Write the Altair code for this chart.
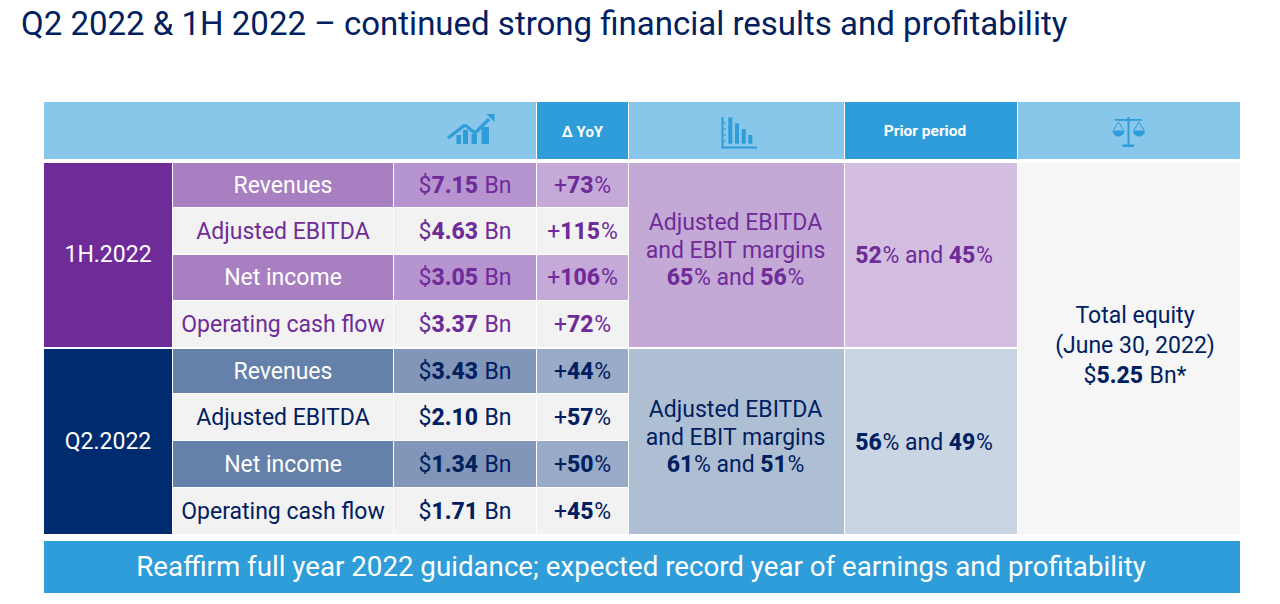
import altair as alt
import pandas as pd

FONT = "Roboto"
PURPLE, NAVY, SKY, DEEP, WHITE = "#6F2C99", "#002060", "#88C7EA", "#2E9DD9", "#FFFFFF"

# ---- content -------------------------------------------------------------
title = "Q2 2022 & 1H 2022 – continued strong financial results and profitability"
banner = "Reaffirm full year 2022 guidance; expected record year of earnings and profitability"
periods = ["1H.2022", "Q2.2022"]
metrics = ["Revenues", "Adjusted EBITDA", "Net income", "Operating cash flow"]
values_1h = ["7.15", "4.63", "3.05", "3.37"]
values_q2 = ["3.43", "2.10", "1.34", "1.71"]
yoy_1h = ["73", "115", "106", "72"]
yoy_q2 = ["44", "57", "50", "45"]
margins_1h = ["65", "56"]
margins_q2 = ["61", "51"]
prior_1h = ["52", "45"]
prior_q2 = ["56", "49"]
equity = "5.25"
margin_lines = ["Adjusted EBITDA", "and EBIT margins"]
equity_lines = ["Total equity", "(June 30, 2022)"]
headers = ["Δ YoY", "Prior period"]

# ---- layout of the slide grid ---------------------------------------------
cols = [(44, 172), (173, 393), (394, 536), (537, 628), (629, 844), (845, 1017), (1018, 1240)]
rows_1h = [(163, 207), (208, 254), (255, 300), (301, 347)]
rows_q2 = [(349, 393), (394, 440), (441, 487), (488, 534)]
cx = [(a + b) / 2 for a, b in cols]

themes = [
    dict(rows=rows_1h, ink=PURPLE, period=PURPLE, label="#A880C2", val="#B594CF", yoy="#C5A9D9",
         margin="#C4A9D7", prior="#D3BEE2", values=values_1h, yoys=yoy_1h, margins=margins_1h, priors=prior_1h),
    dict(rows=rows_q2, ink=NAVY, period="#002B6F", label="#6580A9", val="#8196B8", yoy="#99ABC8",
         margin="#AFBFD3", prior="#CAD5E4", values=values_q2, yoys=yoy_q2, margins=margins_q2, priors=prior_q2),
]

REG = {"$": .562, "%": .732, "+": .568, ".": .263, " ": .248, "B": .623, "n": .551, "a": .544, "d": .564, "*": .431}
BOLD = {".": .29, "%": .75}


def width(s, bold, size):
    t = 0
    for c in s:
        t += (BOLD.get(c, .59) if bold else REG.get(c, .562)) * size
    return t


cells, plain, left_reg, left_bold = [], [], [], []


def cell(c, r, fill):
    cells.append(dict(x=c[0], x2=c[1], y=r[0], y2=r[1], fill=fill))


def text(s, x, y, size, ink):
    plain.append(dict(t=s, x=x, y=y, size=size, ink=ink))


def runs(parts, center, y, size, ink):
    total = sum(width(s, b, size) for s, b in parts)
    x = center - total / 2
    for s, b in parts:
        lead = len(s) - len(s.lstrip(" "))
        (left_bold if b else left_reg).append(
            dict(t=s.strip(" "), x=x + width(" " * lead, b, size), y=y, size=size, ink=ink))
        x += width(s, b, size)


# header
cell((44, 536), (102, 159), SKY)
cell(cols[3], (102, 159), DEEP)
cell(cols[4], (102, 159), SKY)
cell(cols[5], (102, 159), DEEP)
cell(cols[6], (102, 159), SKY)
cell(cols[6], (163, 534), "#F6F6F6")
cell((44, 1240), (541, 593), DEEP)

SZ = 23
for i, th in enumerate(themes):
    rs = th["rows"]
    span = (rs[0][0], rs[3][1])
    mid = sum(span) / 2
    cell(cols[0], span, th["period"])
    cell(cols[4], span, th["margin"])
    cell(cols[5], span, th["prior"])
    text(periods[i], cx[0], mid, SZ, WHITE)
    for j, r in enumerate(rs):
        dark = j % 2 == 0
        ym = sum(r) / 2 + 0.5
        cell(cols[1], r, th["label"] if dark else "#F2F2F2")
        cell(cols[2], r, th["val"] if dark else "#F2F2F2")
        cell(cols[3], r, th["yoy"] if dark else "#F2F2F2")
        text(metrics[j], cx[1], ym, SZ, WHITE if dark else th["ink"])
        runs([("$", False), (th["values"][j], True), (" Bn", False)], cx[2], ym, SZ, th["ink"])
        runs([("+", False), (th["yoys"][j], True), ("%", False)], cx[3], ym, SZ, th["ink"])
    text(margin_lines[0], cx[4] - 1, mid - 32, SZ, th["ink"])
    text(margin_lines[1], cx[4] - 1, mid - 4, SZ, th["ink"])
    m = th["margins"]
    runs([(m[0], True), ("%", False), (" and ", False), (m[1], True), ("%", False)], cx[4] - 1, mid + 23, SZ, th["ink"])
    p = th["priors"]
    runs([(p[0], True), ("%", False), (" and ", False), (p[1], True), ("%", False)], cx[5] - 7, mid + 1, SZ, th["ink"])

text(equity_lines[0], 1135, 316, SZ, NAVY)
text(equity_lines[1], 1135, 346, SZ, NAVY)
runs([("$", False), (equity, True), (" Bn", False), ("*", False)], 1135, 376, SZ, NAVY)

bold_center = [dict(t=headers[0], x=cx[3], y=132, size=15, ink=WHITE),
               dict(t=headers[1], x=cx[5] - 6, y=131, size=15.5, ink=WHITE)]
text(banner, 641, 568, 27.7, WHITE)
title_row = [dict(t=title, x=21, y=25, size=33, ink=NAVY)]

# ---- header icons ----------------------------------------------------------
icon_rects = [
    (456.5, 461, 135, 144), (463, 468, 130, 144), (471.5, 477, 134, 144), (481.5, 489, 127, 144),  # growth bars
    (728.3, 732.3, 117.5, 143.7), (735, 739, 123.3, 143.7), (741.7, 745.7, 129, 143.7), (748.3, 752.3, 135, 143.7),  # falling bars
    (721.5, 723.5, 117, 148.5), (721.5, 757, 146.5, 148.5),
    (723.5, 726, 122.5, 123.5), (723.5, 726, 128.5, 129.5), (723.5, 726, 134.5, 135.5), (723.5, 726, 140.5, 141.5),
    (1127.5, 1129.5, 117, 145), (1122.5, 1134, 144.5, 147), (1115, 1142, 119, 120.8),  # scales
]
icon_segments = [
    (448, 138, 465, 125, 3.2), (465, 125, 475, 133, 3.2), (475, 133, 489, 119, 3.2),
    (1118.5, 122, 1113.5, 130, 1), (1118.5, 122, 1123.5, 130, 1),
    (1139, 122, 1134, 130, 1), (1139, 122, 1144, 130, 1),
]
icon_points = [
    (490.5, 118, "M-1,-1L1,-1L1,1Z", 64),
    (1118.5, 130.5, "M-1,0A1,1 0 0 0 1,0Z", 144),
    (1139, 130.5, "M-1,0A1,1 0 0 0 1,0Z", 144),
    (1128.5, 118.5, "M-1,1L0,-1L1,1Z", 16),
]

# ---- chart ----------------------------------------------------------------
X = alt.X("x:Q", axis=None, scale=alt.Scale(domain=[8, 1272], nice=False, zero=False))
Y = alt.Y("y:Q", axis=None, scale=alt.Scale(domain=[596, 8], nice=False, zero=False))


def text_layer(rows, align="center", weight=400):
    return alt.Chart(pd.DataFrame(rows)).mark_text(
        font=FONT, align=align, baseline="middle", fontWeight=weight
    ).encode(
        x=X, y=Y, text="t:N",
        size=alt.Size("size:Q", scale=None),
        color=alt.Color("ink:N", scale=None),
    )


rect_layer = alt.Chart(pd.DataFrame(cells)).mark_rect().encode(
    x=X, x2="x2:Q", y=Y, y2="y2:Q", color=alt.Color("fill:N", scale=None)
)
icon_rect_layer = alt.Chart(pd.DataFrame(icon_rects, columns=["x", "x2", "y", "y2"])).mark_rect(color=DEEP).encode(
    x=X, x2="x2:Q", y=Y, y2="y2:Q"
)
icon_seg_layer = alt.Chart(pd.DataFrame(icon_segments, columns=["x", "y", "x2", "y2", "w"])).mark_rule(color=DEEP).encode(
    x=X, y=Y, x2="x2:Q", y2="y2:Q", size=alt.Size("w:Q", scale=None)
)
point_layers = [
    alt.Chart(pd.DataFrame([dict(x=x, y=y)])).mark_point(
        shape=shape, size=size, filled=True, color=DEEP, opacity=1
    ).encode(x=X, y=Y)
    for x, y, shape, size in icon_points
]

chart = alt.layer(
    rect_layer, icon_rect_layer, icon_seg_layer, *point_layers,
    text_layer(plain, "center", 400),
    text_layer(left_reg, "left", 400),
    text_layer(left_bold, "left", 800),
    text_layer(bold_center, "center", 700),
    text_layer(title_row, "left", 400),
).properties(
    width=1264, height=588, padding=0, autosize=alt.AutoSizeParams(type="none")
).configure_view(stroke=None)

chart.save("out.html", embed_options={"renderer": "svg", "actions": False})
